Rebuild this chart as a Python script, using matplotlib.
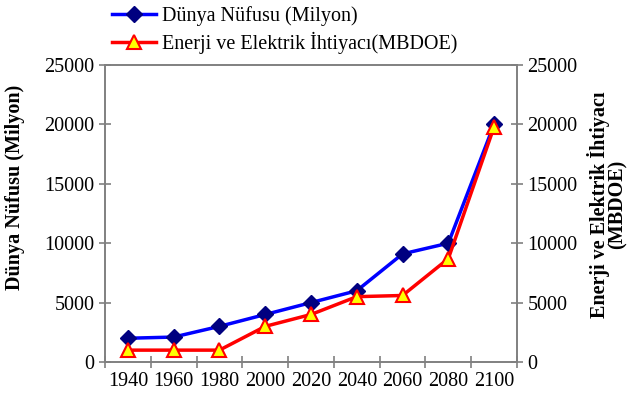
import matplotlib
matplotlib.use("Agg")
import matplotlib.pyplot as plt
import numpy as np

years = ["1940", "1960", "1980", "2000", "2020", "2040", "2060", "2080", "2100"]
population = [2000, 2100, 3000, 4000, 5000, 6000, 9100, 10000, 20000]
energy = [1000, 1000, 1000, 3000, 4000, 5500, 5600, 8700, 19800]

plt.rcParams['font.family'] = ['Liberation Serif', 'DejaVu Serif']

FS = 14.5
fig = plt.figure(figsize=(6.31, 4.03), dpi=100)
ax = fig.add_axes([0.1664, 0.1017, 0.6529, 0.737])
ax2 = ax.twinx()

x = np.arange(len(years))
l1, = ax.plot(x, population, color='#0000ff', lw=2.5, marker='D', ms=8,
              mfc='#000080', mec='#000080', label='Dünya Nüfusu (Milyon)', zorder=3)
l2, = ax2.plot(x, energy, color='#ff0000', lw=2.5, marker='^', ms=10,
               mfc='#ffff00', mec='#ff0000', mew=1.5,
               label='Enerji ve Elektrik İhtiyacı(MBDOE)', zorder=3)

for a in (ax, ax2):
    a.set_ylim(0, 25000)
    a.set_yticks(range(0, 25001, 5000))
    for s in a.spines.values():
        s.set_color('#808080')
        s.set_linewidth(1.2)
ax.set_xlim(-0.5, len(years) - 0.5)
ax.set_xticks(np.arange(-0.5, len(years), 1.0))
ax.set_xticklabels([])
ax.set_xticks(x, minor=True)
ax.set_xticklabels(years, minor=True)
ax.tick_params(axis='x', which='minor', length=0, labelsize=FS, pad=7)
ax.tick_params(axis='x', which='major', direction='inout', length=8, color='#808080', width=1.2)
ax.tick_params(axis='y', direction='inout', length=8, color='#808080', width=1.2, labelsize=FS)
ax2.tick_params(axis='y', direction='inout', length=8, color='#808080', width=1.2, labelsize=FS)

ax.set_ylabel('Dünya Nüfusu (Milyon)', fontsize=FS, fontweight='bold')
ax.yaxis.set_label_coords(-0.194, 0.589)
ax2.set_ylabel('Enerji ve Elektrik İhtiyacı\n(MBDOE)', fontsize=FS, fontweight='bold',
               rotation=90, linespacing=0.85)
ax2.yaxis.set_label_coords(1.17, 0.53)

fig.legend(handles=[l1, l2], loc='upper left', bbox_to_anchor=(0.148, 1.03),
           frameon=False, fontsize=FS, handlelength=2.2, handletextpad=0.3,
           labelspacing=0.3)

fig.savefig('out.png', dpi=100)
